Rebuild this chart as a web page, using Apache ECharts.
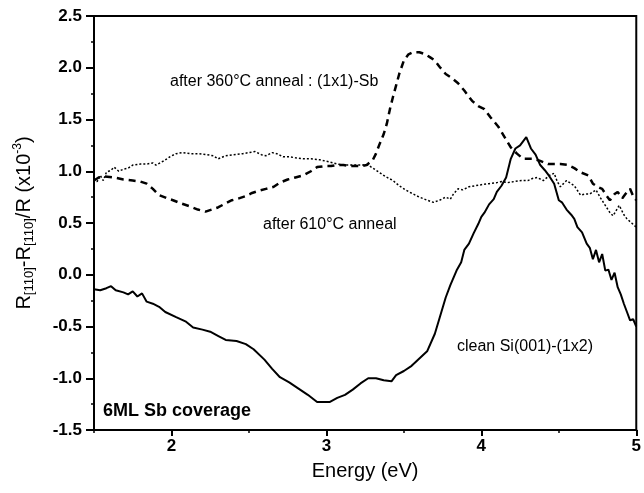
<!DOCTYPE html>
<html lang="en">
<head>
    <meta charset="UTF-8">
    <title>RAS spectra Sb/Si(001)</title>
    <script src="https://cdn.jsdelivr.net/npm/echarts@6/dist/echarts.min.js"></script>
    <style>
        html, body { margin: 0; padding: 0; background: #fff; }
        #chart { width: 644px; height: 493px; }
    </style>
</head>
<body>
    <div id="chart"></div>
    <script>
        // clean Si(001)-(1x2), solid line
        var energyClean = [1.50, 1.54, 1.58, 1.61, 1.64, 1.69, 1.72, 1.75, 1.78, 1.81, 1.84, 1.88, 1.92, 1.96, 2.03, 2.09, 2.14, 2.20, 2.25, 2.30,
            2.35, 2.42, 2.48, 2.53, 2.60, 2.65, 2.70, 2.76, 2.82, 2.88, 2.94, 3.02, 3.07, 3.12, 3.17, 3.22, 3.27, 3.32, 3.37, 3.42,
            3.45, 3.50, 3.55, 3.60, 3.65, 3.70, 3.73, 3.77, 3.80, 3.84, 3.87, 3.89, 3.92, 3.95, 3.98, 4.00, 4.02, 4.05, 4.08, 4.10,
            4.13, 4.16, 4.19, 4.22, 4.25, 4.29, 4.32, 4.35, 4.38, 4.41, 4.44, 4.47, 4.50, 4.52, 4.55, 4.58, 4.60, 4.62, 4.65, 4.68,
            4.70, 4.72, 4.74, 4.76, 4.78, 4.80, 4.82, 4.84, 4.86, 4.88, 4.90, 4.92, 4.94, 4.96, 4.98, 5.00];
        var clean = [-0.14, -0.15, -0.13, -0.11, -0.15, -0.17, -0.19, -0.16, -0.21, -0.18, -0.26, -0.28, -0.31, -0.36, -0.41, -0.45, -0.51, -0.53, -0.55, -0.59,
            -0.63, -0.64, -0.67, -0.72, -0.82, -0.91, -0.99, -1.04, -1.10, -1.16, -1.23, -1.23, -1.19, -1.16, -1.11, -1.05, -1.00, -1.00, -1.02, -1.03,
            -0.97, -0.93, -0.88, -0.81, -0.74, -0.57, -0.42, -0.22, -0.10, 0.04, 0.12, 0.24, 0.30, 0.40, 0.49, 0.56, 0.60, 0.68, 0.73, 0.80,
            0.86, 0.94, 1.12, 1.22, 1.25, 1.33, 1.22, 1.16, 1.06, 1.01, 0.95, 0.88, 0.72, 0.70, 0.63, 0.58, 0.54, 0.46, 0.41, 0.30,
            0.26, 0.15, 0.24, 0.12, 0.20, 0.04, 0.05, -0.05, 0.02, -0.12, -0.19, -0.28, -0.36, -0.44, -0.43, -0.50];

        // after 360°C anneal : (1x1)-Sb, dashed line
        var energy360 = [1.50, 1.53, 1.57, 1.63, 1.69, 1.75, 1.80, 1.84, 1.88, 1.92, 1.97, 2.01, 2.06, 2.12, 2.17, 2.22, 2.26, 2.30, 2.35, 2.39,
            2.44, 2.48, 2.52, 2.56, 2.61, 2.66, 2.70, 2.75, 2.80, 2.85, 2.90, 2.94, 2.99, 3.03, 3.07, 3.11, 3.15, 3.19, 3.23, 3.26,
            3.30, 3.32, 3.34, 3.37, 3.39, 3.41, 3.43, 3.45, 3.47, 3.50, 3.53, 3.56, 3.60, 3.64, 3.67, 3.70, 3.73, 3.77, 3.81, 3.85,
            3.89, 3.94, 3.98, 4.02, 4.06, 4.11, 4.15, 4.19, 4.23, 4.27, 4.31, 4.34, 4.38, 4.43, 4.47, 4.51, 4.56, 4.60, 4.64, 4.69,
            4.72, 4.75, 4.78, 4.81, 4.83, 4.86, 4.88, 4.91, 4.93, 4.96, 4.98, 5.00];
        var anneal360 = [0.91, 0.94, 0.95, 0.94, 0.92, 0.91, 0.90, 0.88, 0.83, 0.77, 0.74, 0.72, 0.69, 0.66, 0.63, 0.61, 0.63, 0.65, 0.69, 0.72,
            0.74, 0.76, 0.79, 0.81, 0.83, 0.85, 0.89, 0.92, 0.94, 0.96, 1.00, 1.04, 1.05, 1.05, 1.06, 1.06, 1.05, 1.05, 1.05, 1.06,
            1.11, 1.17, 1.25, 1.36, 1.46, 1.60, 1.72, 1.83, 1.94, 2.07, 2.13, 2.15, 2.15, 2.13, 2.10, 2.07, 2.01, 1.94, 1.90, 1.85,
            1.78, 1.68, 1.63, 1.60, 1.52, 1.43, 1.33, 1.23, 1.17, 1.12, 1.12, 1.12, 1.10, 1.07, 1.07, 1.07, 1.06, 1.03, 0.99, 0.96,
            0.88, 0.85, 0.83, 0.76, 0.72, 0.78, 0.80, 0.74, 0.78, 0.83, 0.76, 0.72];

        // after 610°C anneal, dotted line
        var energy610 = [1.50, 1.52, 1.54, 1.56, 1.58, 1.61, 1.63, 1.66, 1.69, 1.72, 1.75, 1.80, 1.84, 1.88, 1.90, 1.95, 1.99, 2.03, 2.07, 2.12,
            2.18, 2.23, 2.27, 2.30, 2.35, 2.40, 2.46, 2.50, 2.54, 2.58, 2.61, 2.65, 2.68, 2.72, 2.76, 2.80, 2.85, 2.90, 2.96, 3.02,
            3.07, 3.12, 3.17, 3.22, 3.27, 3.31, 3.34, 3.38, 3.43, 3.47, 3.51, 3.56, 3.60, 3.65, 3.69, 3.73, 3.77, 3.80, 3.82, 3.85,
            3.88, 3.92, 3.96, 4.00, 4.05, 4.10, 4.13, 4.17, 4.21, 4.26, 4.30, 4.33, 4.36, 4.40, 4.44, 4.47, 4.49, 4.51, 4.55, 4.58,
            4.60, 4.64, 4.67, 4.70, 4.74, 4.77, 4.80, 4.83, 4.85, 4.87, 4.89, 4.92, 4.94, 4.97, 5.00];
        var anneal610 = [0.93, 0.90, 0.96, 0.91, 0.99, 1.01, 1.04, 1.00, 1.02, 1.03, 1.06, 1.07, 1.07, 1.08, 1.06, 1.10, 1.14, 1.17, 1.18, 1.17,
            1.17, 1.16, 1.15, 1.12, 1.15, 1.16, 1.17, 1.18, 1.19, 1.16, 1.15, 1.18, 1.17, 1.14, 1.14, 1.13, 1.12, 1.12, 1.11, 1.09,
            1.07, 1.06, 1.06, 1.06, 1.06, 1.02, 0.99, 0.95, 0.91, 0.86, 0.82, 0.78, 0.75, 0.72, 0.70, 0.72, 0.75, 0.73, 0.78, 0.83,
            0.82, 0.85, 0.86, 0.87, 0.88, 0.89, 0.90, 0.89, 0.90, 0.91, 0.91, 0.93, 0.94, 0.91, 0.96, 0.98, 0.90, 0.85, 0.91, 0.88,
            0.86, 0.77, 0.78, 0.78, 0.82, 0.74, 0.67, 0.60, 0.57, 0.62, 0.67, 0.58, 0.54, 0.50, 0.46];

        var xLabels = [2, 3, 4, 5];

        function pairs(xs, ys) {
            return xs.map(function (x, i) { return [x, ys[i]]; });
        }

        var font = '"Liberation Sans", Arial, sans-serif';
        var chart = echarts.init(document.getElementById('chart'), null, { renderer: 'canvas' });

        chart.setOption({
            animation: false,
            backgroundColor: '#fff',
            grid: {
                left: 94, right: 1, top: 16, bottom: 63,
                show: true, borderColor: '#000', borderWidth: 2, backgroundColor: 'transparent'
            },
            xAxis: [{
                type: 'value', min: 1.5, max: 5, interval: 0.5, position: 'bottom',
                name: 'Energy (eV)', nameLocation: 'middle', nameGap: 31,
                nameTextStyle: { fontFamily: font, fontSize: 20, color: '#000' },
                axisLine: { show: true, onZero: false, lineStyle: { color: '#000', width: 2 } },
                axisTick: { show: true, customValues: xLabels, length: 6, lineStyle: { color: '#000', width: 2 } },
                axisLabel: { customValues: xLabels, margin: 8, fontFamily: font, fontSize: 17, fontWeight: 'bold', color: '#000' },
                splitLine: { show: false }
            }, {
                type: 'value', min: 1.5, max: 5, interval: 0.5, position: 'bottom',
                axisLine: { show: false, onZero: false },
                axisTick: { show: true, length: 3, lineStyle: { color: '#000', width: 1.5 } },
                axisLabel: { show: false },
                splitLine: { show: false }
            }],
            yAxis: {
                type: 'value', min: -1.5, max: 2.5, interval: 0.5,
                name: '{n|R}{s|[110]}{n|-R}{s|[110]}{n|/R (x10}{p|-3}{n|)}',
                nameLocation: 'middle', nameGap: 58, nameRotate: 90,
                nameTextStyle: {
                    fontFamily: font, color: '#000',
                    rich: {
                        n: { fontFamily: font, fontSize: 20, lineHeight: 24, color: '#000' },
                        s: { fontFamily: font, fontSize: 13, lineHeight: 13, verticalAlign: 'bottom', color: '#000' },
                        p: { fontFamily: font, fontSize: 12, lineHeight: 12, verticalAlign: 'top', color: '#000' }
                    }
                },
                axisLine: { show: true, onZero: false, lineStyle: { color: '#000', width: 2 } },
                axisTick: { show: true, length: 8, lineStyle: { color: '#000', width: 2 } },
                minorTick: { show: true, splitNumber: 2, length: 3, lineStyle: { color: '#000', width: 1.5 } },
                axisLabel: {
                    margin: 12, fontFamily: font, fontSize: 17, fontWeight: 'bold', color: '#000',
                    formatter: function (v) { return v.toFixed(1); }
                },
                splitLine: { show: false }
            },
            graphic: [
                { type: 'text', left: 170, top: 74, style: { text: 'after 360°C anneal : (1x1)-Sb', font: '16px ' + font, fill: '#000' } },
                { type: 'text', left: 263, top: 217, style: { text: 'after 610°C anneal', font: '16px ' + font, fill: '#000' } },
                { type: 'text', left: 457, top: 339, style: { text: 'clean Si(001)-(1x2)', font: '16px ' + font, fill: '#000' } },
                { type: 'text', left: 103, top: 402, style: { text: '6ML Sb coverage', font: 'bold 18px ' + font, fill: '#000' } }
            ],
            series: [{
                name: 'clean Si(001)-(1x2)', type: 'line', xAxisIndex: 0,
                data: pairs(energyClean, clean), showSymbol: false, smooth: false,
                lineStyle: { color: '#000', width: 2 }
            }, {
                name: 'after 360°C anneal', type: 'line', xAxisIndex: 0,
                data: pairs(energy360, anneal360), showSymbol: false,
                lineStyle: { color: '#000', width: 2.5, type: [7, 5] }
            }, {
                name: 'after 610°C anneal', type: 'line', xAxisIndex: 0,
                data: pairs(energy610, anneal610), showSymbol: false,
                lineStyle: { color: '#000', width: 1.5, type: [2, 2] }
            }]
        });
    </script>
</body>
</html>
